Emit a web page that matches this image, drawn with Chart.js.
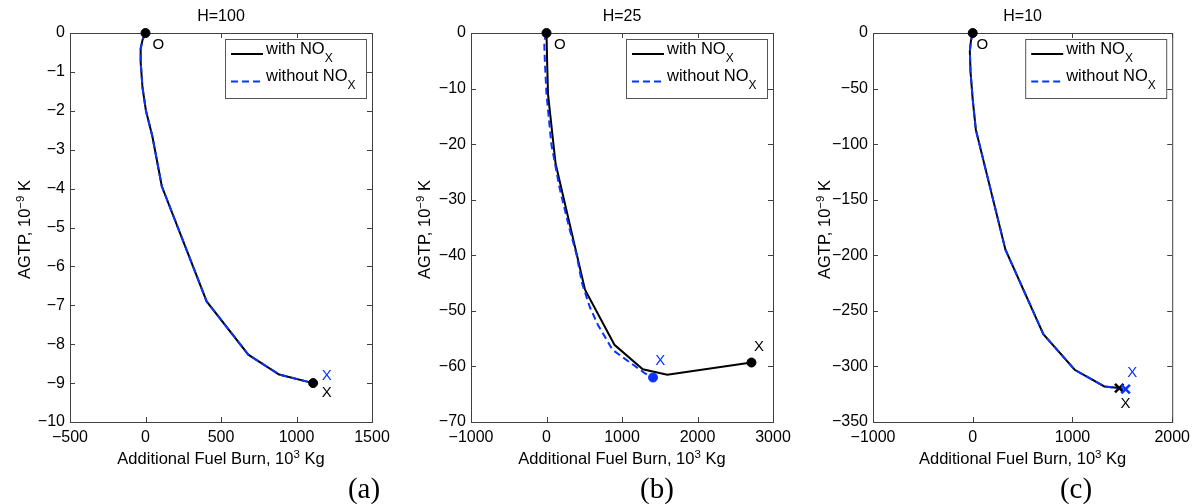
<!DOCTYPE html>
<html>
<head>
<meta charset="utf-8">
<script src="https://cdn.jsdelivr.net/npm/chart.js@4.4.1/dist/chart.umd.min.js"></script>
<style>
	body { margin: 0; background: #fff; }
	#wrap { position: relative; width: 1196px; height: 504px; overflow: hidden; }
	canvas { position: absolute; top: 0; }
	.cap { position: absolute; top: 473px; line-height: 30px; transform: translateX(-50%); font-family: "Liberation Serif", "Times New Roman", serif; font-size: 29px; color: #000; }
</style>
</head>
<body>
<div id="wrap">
	<canvas id="chartA" width="400" height="504" style="left:0"></canvas>
	<canvas id="chartB" width="400" height="504" style="left:400px"></canvas>
	<canvas id="chartC" width="396" height="504" style="left:800px"></canvas>
	<div class="cap" style="left:364px">(a)</div>
	<div class="cap" style="left:657px">(b)</div>
	<div class="cap" style="left:1076px">(c)</div>
</div>
<script>
// --------------------------- Data ---------------------------
const legendLabels = ["with NO", "without NO"];

// H=100
const aWithX = [0, -19, -32, -32, -20, 3, 45, 108, 405, 681, 885, 1110];
const aWithY = [0, -0.17, -0.4, -0.75, -1.4, -2.0, -2.65, -3.94, -6.9, -8.27, -8.78, -9.0];
const aWithoutX = [0, -19, -32, -32, -20, 3, 45, 108, 405, 681, 885, 1110];
const aWithoutY = [0, -0.17, -0.4, -0.75, -1.4, -2.0, -2.65, -3.94, -6.9, -8.27, -8.78, -9.0];

// H=25
const bWithX = [0, 8, 20, 120, 510, 900, 1275, 1600, 2715];
const bWithY = [0, -5, -11, -23.5, -46.2, -56.1, -60.5, -61.5, -59.3];
const bWithoutX = [0, -30, -22, 0, 64, 175, 300, 400, 470, 573, 680, 874, 1117, 1300, 1411];
const bWithoutY = [0, -1.5, -5, -11, -20, -28, -35, -40, -45, -49.3, -52.5, -57, -59.4, -61.2, -62];

// H=10
const cWithX = [0, -19, -29, -22, 0, 31, 328, 708, 1022, 1320, 1469];
const cWithY = [0, -7.5, -16.5, -35, -60, -87, -195, -271, -303, -318, -319.5];
const cWithoutX = [0, -19, -29, -22, 0, 31, 328, 708, 1022, 1320, 1533];
const cWithoutY = [0, -7.5, -16.5, -35, -60, -87, -195, -271, -303, -318, -320.5];

// "O" / "X" annotations (data coordinates)
const aNotes = [["O", 85, -0.3, "black"], ["X", 1200, -8.81, "blue"], ["X", 1200, -9.24, "black"]];
const bNotes = [["O", 175, -2.1, "black"], ["X", 1508, -59.0, "blue"], ["X", 2815, -56.4, "black"]];
const cNotes = [["O", 96, -10.5, "black"], ["X", 1600, -305.6, "blue"], ["X", 1533, -334, "black"]];

// --------------------------- Helpers ---------------------------
const FONT = '"Liberation Sans", Arial, sans-serif';
const BLUE = "#0a33ff";
const toPoints = (xs, ys) => xs.map((x, i) => ({ x, y: ys[i] }));
const last = (arr) => arr[arr.length - 1];
const minus = (v) => (v < 0 ? "\u2212" + Math.abs(v) : String(v));

function drawRich(ctx, parts, x, y, align) {
	let total = 0;
	parts.forEach((p) => {
		ctx.font = `${p.size}px ${FONT}`;
		p.w = ctx.measureText(p.t).width;
		total += p.w;
	});
	let cx = align === "center" ? x - total / 2 : x;
	ctx.textAlign = "left";
	ctx.textBaseline = "alphabetic";
	parts.forEach((p) => {
		ctx.font = `${p.size}px ${FONT}`;
		ctx.fillText(p.t, cx, y + (p.dy || 0));
		cx += p.w;
	});
}

// --------------------------- Frame / Text Plugin ---------------------------
const matlabLook = {
	id: "matlabLook",
	beforeDatasetsDraw(chart) {
		const { ctx, chartArea: a, scales } = chart;
		ctx.save();
		ctx.strokeStyle = "#404040";
		ctx.lineWidth = 1;
		ctx.strokeRect(a.left + 0.5, a.top + 0.5, a.right - a.left, a.bottom - a.top);
		ctx.beginPath();
		scales.x.ticks.forEach((t) => {
			const px = Math.round(scales.x.getPixelForValue(t.value)) + 0.5;
			ctx.moveTo(px, a.bottom);
			ctx.lineTo(px, a.bottom - 5);
			ctx.moveTo(px, a.top);
			ctx.lineTo(px, a.top + 5);
		});
		scales.y.ticks.forEach((t) => {
			const py = Math.round(scales.y.getPixelForValue(t.value)) + 0.5;
			ctx.moveTo(a.left, py);
			ctx.lineTo(a.left + 5, py);
			ctx.moveTo(a.right, py);
			ctx.lineTo(a.right - 5, py);
		});
		ctx.stroke();
		ctx.restore();
	},
	afterDraw(chart) {
		const { ctx, chartArea: a, scales } = chart;
		const o = chart.options.plugins.matlabLook;
		const midX = (a.left + a.right) / 2;
		const midY = (a.top + a.bottom) / 2;
		ctx.save();
		ctx.fillStyle = "#000";

		// title
		drawRich(ctx, [{ t: o.title, size: 16 }], midX, 21, "center");

		// axis titles
		drawRich(ctx, [
			{ t: "Additional Fuel Burn, 10", size: 16.5 },
			{ t: "3", size: 11.5, dy: -6 },
			{ t: " Kg", size: 16.5 },
		], midX, 464, "center");
		ctx.save();
		ctx.translate(30, midY + 2);
		ctx.rotate(-Math.PI / 2);
		drawRich(ctx, [
			{ t: "AGTP, 10", size: 16.5 },
			{ t: "\u22129", size: 11.5, dy: -6 },
			{ t: " K", size: 16.5 },
		], 0, 0, "center");
		ctx.restore();

		// O / X annotations
		ctx.font = `15px ${FONT}`;
		ctx.textAlign = "center";
		ctx.textBaseline = "middle";
		o.notes.forEach(([t, x, y, c]) => {
			ctx.fillStyle = c === "blue" ? BLUE : "#000";
			ctx.fillText(t, scales.x.getPixelForValue(x), scales.y.getPixelForValue(y));
		});

		// legend
		const box = { left: a.right - 147, top: a.top + 6, w: 141, h: 59 };
		ctx.fillStyle = "#fff";
		ctx.fillRect(box.left, box.top, box.w, box.h);
		ctx.strokeStyle = "#555";
		ctx.lineWidth = 1;
		ctx.strokeRect(box.left + 0.5, box.top + 0.5, box.w, box.h);
		chart.data.datasets.slice(0, 2).forEach((ds, i) => {
			const rowY = box.top + 15 + i * 27.4;
			ctx.strokeStyle = ds.borderColor;
			ctx.lineWidth = 2;
			ctx.setLineDash(ds.borderDash || []);
			ctx.beginPath();
			ctx.moveTo(box.left + 6, rowY);
			ctx.lineTo(box.left + 38, rowY);
			ctx.stroke();
			ctx.setLineDash([]);
			ctx.fillStyle = "#000";
			drawRich(ctx, [{ t: ds.label, size: 16.5 }, { t: "X", size: 12, dy: 8 }], box.left + 41, rowY, "left");
		});
		ctx.restore();
	},
};

// --------------------------- Chart Factory ---------------------------
function makePanel(id, cfg) {
	const canvas = document.getElementById(id);
	const markers = (pts, color, style) => ({
		type: "scatter",
		data: pts,
		pointStyle: style,
		pointRadius: style === "crossRot" ? 6 : 4.5,
		pointBorderWidth: style === "crossRot" ? 2.5 : 1,
		backgroundColor: color,
		borderColor: color,
		clip: false,
		order: -5,
	});
	const endStyle = cfg.endStyle || "circle";
	const datasets = [
		{
			label: legendLabels[0],
			data: toPoints(cfg.withX, cfg.withY),
			borderColor: "#000",
			borderWidth: 2,
			pointRadius: 0,
			order: 0,
		},
		{
			label: legendLabels[1],
			data: toPoints(cfg.withoutX, cfg.withoutY),
			borderColor: BLUE,
			borderWidth: 2,
			borderDash: [7, 4],
			pointRadius: 0,
			order: -1,
		},
		markers([{ x: cfg.withX[0], y: cfg.withY[0] }, { x: last(cfg.withX), y: last(cfg.withY) }], "#000", "circle"),
	];
	if (cfg.blueEnd) {
		datasets.push(markers([{ x: last(cfg.withoutX), y: last(cfg.withoutY) }], BLUE, endStyle));
	}
	if (endStyle !== "circle") {
		// start dot stays a circle, end becomes a cross
		datasets[2].data = [{ x: cfg.withX[0], y: cfg.withY[0] }];
		datasets.push(markers([{ x: last(cfg.withX), y: last(cfg.withY) }], "#000", endStyle));
	}

	return new Chart(canvas, {
		type: "line",
		data: { datasets },
		options: {
			responsive: false,
			animation: false,
			devicePixelRatio: 1,
			layout: { padding: { top: 33, right: cfg.padRight, bottom: 0, left: 0 } },
			scales: {
				x: {
					type: "linear",
					min: cfg.xMin,
					max: cfg.xMax,
					grid: { display: false, drawTicks: false },
					border: { display: false },
					ticks: { stepSize: cfg.xStep, padding: 6, color: "#000", font: { family: FONT, size: 16 }, callback: minus, maxRotation: 0 },
					afterFit: (s) => { s.height = 82; },
				},
				y: {
					type: "linear",
					min: cfg.yMin,
					max: 0,
					grid: { display: false, drawTicks: false },
					border: { display: false },
					ticks: { stepSize: cfg.yStep, padding: 5, color: "#000", font: { family: FONT, size: 16 }, callback: minus, autoSkip: false },
					afterFit: (s) => { s.width = cfg.padLeft; },
				},
			},
			plugins: {
				legend: { display: false },
				tooltip: { enabled: false },
				matlabLook: { title: cfg.title, notes: cfg.notes },
			},
		},
		plugins: [matlabLook],
	});
}

makePanel("chartA", {
	title: "H=100", withX: aWithX, withY: aWithY, withoutX: aWithoutX, withoutY: aWithoutY,
	xMin: -500, xMax: 1500, xStep: 500, yMin: -10, yStep: 1,
	padLeft: 70, padRight: 28, notes: aNotes,
});
makePanel("chartB", {
	title: "H=25", withX: bWithX, withY: bWithY, withoutX: bWithoutX, withoutY: bWithoutY,
	xMin: -1000, xMax: 3000, xStep: 1000, yMin: -70, yStep: 10,
	padLeft: 71, padRight: 27, notes: bNotes, blueEnd: true,
});
makePanel("chartC", {
	title: "H=10", withX: cWithX, withY: cWithY, withoutX: cWithoutX, withoutY: cWithoutY,
	xMin: -1000, xMax: 2000, xStep: 1000, yMin: -350, yStep: 50,
	padLeft: 73, padRight: 21, notes: cNotes, blueEnd: true, endStyle: "crossRot",
});
</script>
</body>
</html>
